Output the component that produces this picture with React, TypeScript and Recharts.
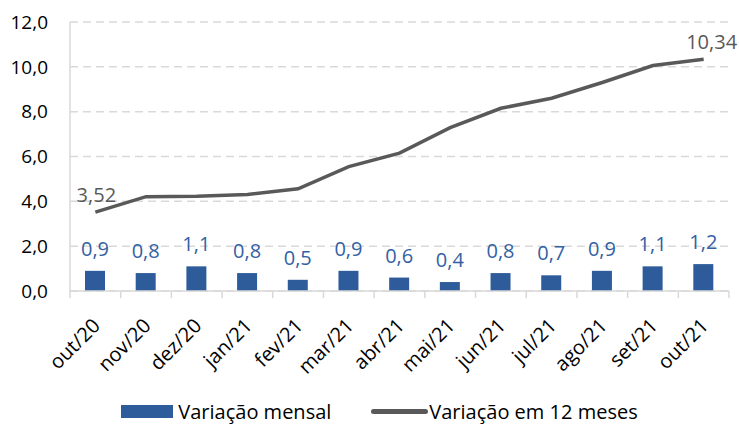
import React from 'react';
import { ComposedChart, Bar, Line, XAxis, YAxis, CartesianGrid, LabelList, Legend } from 'recharts';

const categories = ['out/20', 'nov/20', 'dez/20', 'jan/21', 'fev/21', 'mar/21', 'abr/21', 'mai/21', 'jun/21', 'jul/21', 'ago/21', 'set/21', 'out/21'];
const monthly = [0.9, 0.8, 1.1, 0.8, 0.5, 0.9, 0.6, 0.4, 0.8, 0.7, 0.9, 1.1, 1.2];
const twelveMonths = [3.52, 4.21, 4.23, 4.31, 4.56, 5.55, 6.15, 7.29, 8.15, 8.6, 9.3, 10.06, 10.34];
const yTicks = [0, 2, 4, 6, 8, 10, 12];

const data = categories.map((c, i) => ({ cat: c, monthly: monthly[i], twelve: twelveMonths[i] }));

const FONT = "'Open Sans', 'Noto Sans', sans-serif";
const BAR_COLOR = '#2E5C9A';
const LABEL_BLUE = '#3361A3';
const LINE_COLOR = '#595959';
const GRID = '#D9D9D9';

const W = 739;
const H = 425;
const M = { top: 22, right: 10, left: 0, bottom: 0 };
const Y_W = 70;
const LEGEND_H = 36;
const BAND = (W - M.right - Y_W) / categories.length;

const fmt1 = (v: number) => v.toFixed(1).replace('.', ',');
const fmt2 = (v: number) => v.toFixed(2).replace('.', ',');

const XTick = (props: any) => {
  const { x, y, payload, index } = props;
  const axisY = y - 4;
  const half = BAND / 2;
  const last = index === categories.length - 1;
  const ax = x + 6;
  const ay = y + 32;
  return (
    <g>
      <line x1={x - half} x2={x - half} y1={axisY} y2={axisY + 7} stroke={GRID} strokeWidth={1.5} />
      {last && <line x1={x + half} x2={x + half} y1={axisY} y2={axisY + 7} stroke={GRID} strokeWidth={1.5} />}
      <text
        x={ax}
        y={ay}
        transform={`rotate(-45, ${ax}, ${ay})`}
        textAnchor="end"
        fontSize={20}
        fontFamily={FONT}
        fill="#000"
      >
        {payload.value}
      </text>
    </g>
  );
};

const LineLabel = (props: any) => {
  const { x, y, value, index } = props;
  if (index !== 0 && index !== categories.length - 1) return null;
  return (
    <text x={x + (index === 0 ? 1 : 8)} y={y - 10} textAnchor="middle" fontSize={20} fontFamily={FONT} fill={LINE_COLOR}>
      {fmt2(value)}
    </text>
  );
};

const LegendContent = () => (
  <div
    style={{
      display: 'flex',
      justifyContent: 'center',
      alignItems: 'center',
      height: LEGEND_H,
      boxSizing: 'border-box',
      paddingTop: 9,
      lineHeight: '27px',
      fontFamily: FONT,
      fontSize: 20,
      color: '#000',
      paddingLeft: 30,
    }}
  >
    <span style={{ display: 'inline-block', width: 52, height: 13, background: BAR_COLOR, marginRight: 5 }} />
    <span style={{ marginRight: 40 }}>Variação mensal</span>
    <span style={{ display: 'inline-block', width: 57, height: 5, background: LINE_COLOR, borderRadius: 2.5, marginRight: 1 }} />
    <span>Variação em 12 meses</span>
  </div>
);

export default function App() {
  return (
    <div style={{ position: 'absolute', left: 0, top: 0, width: W, height: H, background: '#fff' }}>
      <ComposedChart width={W} height={H} data={data} margin={M}>
        <CartesianGrid vertical={false} stroke={GRID} strokeDasharray="8 5" strokeWidth={1.5} />
        <XAxis
          dataKey="cat"
          interval={0}
          tickLine={false}
          tickSize={0}
          tickMargin={4}
          axisLine={{ stroke: GRID, strokeWidth: 1.5 }}
          tick={<XTick />}
          height={H - M.top - 269 - LEGEND_H}
        />
        <YAxis
          domain={[0, 12]}
          ticks={yTicks}
          width={Y_W}
          tickFormatter={fmt1}
          tickLine={false}
          tickSize={0}
          tickMargin={22}
          axisLine={{ stroke: GRID, strokeWidth: 1.5 }}
          tick={{ fontSize: 19, fontFamily: FONT, fill: '#000' }}
          interval={0}
        />
        <Bar dataKey="monthly" fill={BAR_COLOR} barSize={20} isAnimationActive={false}>
          <LabelList dataKey="monthly" position="top" offset={15} formatter={(v: any) => fmt1(Number(v))} fill={LABEL_BLUE} fontSize={20} fontFamily={FONT} />
        </Bar>
        <Line dataKey="twelve" stroke={LINE_COLOR} strokeWidth={3.5} dot={false} isAnimationActive={false} label={<LineLabel />} />
        <Legend verticalAlign="bottom" height={LEGEND_H} content={<LegendContent />} />
      </ComposedChart>
    </div>
  );
}
